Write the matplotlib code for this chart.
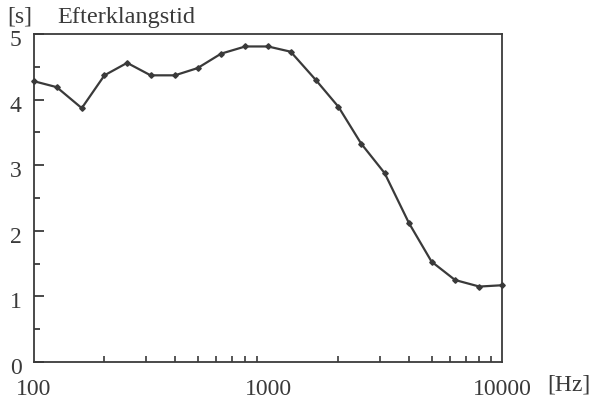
import numpy as np
import matplotlib.pyplot as plt
import matplotlib.transforms as mtrans
from matplotlib.ticker import FixedLocator, NullFormatter

# Efterklangstid (reverberation time) per tertsband
freq = [100, 125, 160, 200, 250, 315, 400, 500, 630, 800, 1000, 1250,
        1600, 2000, 2500, 3150, 4000, 5000, 6300, 8000, 10000]
t60 = [4.28, 4.19, 3.87, 4.37, 4.56, 4.37, 4.37, 4.48, 4.70, 4.81, 4.81, 4.73,
       4.30, 3.89, 3.33, 2.88, 2.12, 1.53, 1.25, 1.15, 1.17]

xticks = [100, 1000, 10000]
xlabels = ['100', '1000', '10000']
yticks = [0, 1, 2, 3, 4, 5]

plt.rcParams['font.family'] = ['Liberation Serif', 'DejaVu Serif']
ink = '#3a3a3a'

fig = plt.figure(figsize=(5.93, 4.03), dpi=100)
ax = fig.add_axes([34 / 593, 1 - 362 / 403, 468 / 593, 328 / 403])

ax.plot(freq, t60, color=ink, lw=1.6, marker='D', ms=2.8,
        mfc=ink, mec=ink, clip_on=False)

ax.set_xscale('log')
ax.set_xlim(100, 10000)
ax.set_ylim(0, 5)

# x: labels only at decades, small inward ticks at 2..9 multiples
ax.xaxis.set_major_locator(FixedLocator(xticks))
ax.set_xticklabels(xlabels)
minor_x = [m * d for d in (100, 1000) for m in range(2, 10)]
ax.xaxis.set_minor_locator(FixedLocator(minor_x))
ax.xaxis.set_minor_formatter(NullFormatter())
ax.tick_params(axis='x', which='major', length=0, pad=12, labelsize=17, colors=ink)
ax.tick_params(axis='x', which='minor', direction='in', length=4, width=1.2, color=ink)

ax.set_yticks(yticks)
ax.yaxis.set_minor_locator(FixedLocator(np.arange(0.5, 5, 1.0)))
ax.tick_params(axis='y', which='major', direction='in', length=7, width=1.3,
               pad=9, labelsize=17, colors=ink)
ax.tick_params(axis='y', which='minor', direction='in', length=4, width=1.3, color=ink)

# y labels sit a little below their ticks in the original
shift = mtrans.ScaledTranslation(0, -4 / 100, fig.dpi_scale_trans)
for lab in ax.get_yticklabels():
    lab.set_transform(lab.get_transform() + shift)

for s in ax.spines.values():
    s.set_color(ink)
    s.set_linewidth(1.3)

fig.text(7 / 593, 1 - 23 / 403, '[s]', fontsize=17, color=ink, va='baseline')
fig.text(57 / 593, 1 - 23 / 403, 'Efterklangstid', fontsize=17.5, color=ink, va='baseline')
fig.text(547 / 593, 1 - 391 / 403, '[Hz]', fontsize=17, color=ink)

fig.savefig('out.png', dpi=100)
